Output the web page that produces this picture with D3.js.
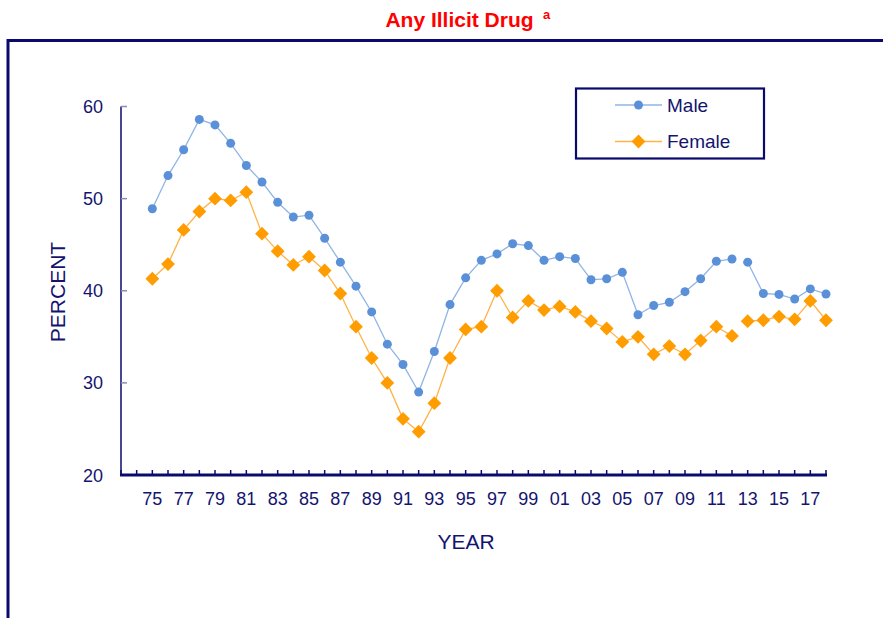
<!DOCTYPE html>
<html>
<head>
<meta charset="utf-8">
<script src="https://cdn.jsdelivr.net/npm/d3@7"></script>
<style>
  html, body { margin: 0; padding: 0; background: #fff; }
  svg { display: block; font-family: "Liberation Sans", Arial, sans-serif; }
</style>
</head>
<body>
<svg id="chart" width="883" height="618"></svg>
<script>
// ---- data ----
const years = d3.range(1975, 2019);
const maleValues = [48.9, 52.5, 55.3, 58.6, 58.0, 56.0, 53.6, 51.8, 49.6, 48.0,
                    48.2, 45.7, 43.1, 40.5, 37.7, 34.2, 32.0, 29.0, 33.4, 38.5,
                    41.4, 43.3, 44.0, 45.1, 44.9, 43.3, 43.7, 43.5, 41.2, 41.3,
                    42.0, 37.4, 38.4, 38.75, 39.9, 41.3, 43.2, 43.45, 43.1, 39.7,
                    39.6, 39.1, 40.2, 39.65];
const femaleValues = [41.3, 42.9, 46.6, 48.6, 50.0, 49.8, 50.7, 46.2, 44.3, 42.8,
                      43.7, 42.2, 39.7, 36.1, 32.7, 30.0, 26.1, 24.7, 27.8, 32.7,
                      35.8, 36.1, 40.0, 37.1, 38.9, 37.9, 38.3, 37.7, 36.7, 35.9,
                      34.45, 35.0, 33.1, 34.0, 33.1, 34.6, 36.1, 35.1, 36.7, 36.8,
                      37.2, 36.9, 38.9, 36.8];
const seriesNames = ["Male", "Female"];
const breakAfterYear = 2012; // lines are not joined across this year
const yTicks = [20, 30, 40, 50, 60];
const xLabelYears = d3.range(1975, 2018, 2);
const xTickYears = d3.range(1973, 2019);

// ---- styles ----
const navy = "#0a0a6e";
const textCol = "#141470";
const maleDot = "#5a90d8";
const maleLine = "#8fb5e6";
const femaleDot = "#ff9c00";
const femaleLine = "#ffb347";

const svg = d3.select("#chart");

// outer frame (top and left)
svg.append("line").attr("x1", 8).attr("x2", 883).attr("y1", 40.5).attr("y2", 40.5)
  .attr("stroke", navy).attr("stroke-width", 3);
svg.append("line").attr("x1", 8).attr("x2", 8).attr("y1", 39).attr("y2", 618)
  .attr("stroke", navy).attr("stroke-width", 3);

// title
svg.append("text").attr("x", 459.5).attr("y", 27)
  .attr("text-anchor", "middle").attr("fill", "#ff0000")
  .attr("font-weight", "bold").attr("font-size", 21).text("Any Illicit Drug");
svg.append("text").attr("x", 543).attr("y", 19)
  .attr("fill", "#ff0000").attr("font-weight", "bold").attr("font-size", 13).text("a");

// scales
const x = d3.scaleLinear().domain([1973, 2018]).range([121, 826]);
const y = d3.scaleLinear().domain([20, 60]).range([475, 106.5]);

// y axis line
svg.append("line").attr("x1", 121).attr("x2", 121).attr("y1", y(60)).attr("y2", y(20))
  .attr("stroke", navy).attr("stroke-width", 1.5);
// y ticks (inward, light)
svg.selectAll(".ytick").data(yTicks).enter().append("line")
  .attr("x1", 121).attr("x2", 127).attr("y1", d => y(d)).attr("y2", d => y(d))
  .attr("stroke", "#8a8ab8").attr("stroke-width", 1.5);
svg.selectAll(".ylab").data(yTicks).enter().append("text")
  .attr("x", 103).attr("y", d => y(d) + 6.5).attr("text-anchor", "end")
  .attr("fill", textCol).attr("font-size", 18).text(d => d);

// x axis
svg.append("line").attr("x1", 120).attr("x2", 827).attr("y1", 475).attr("y2", 475)
  .attr("stroke", navy).attr("stroke-width", 3);
svg.selectAll(".xtick").data(xTickYears).enter().append("line")
  .attr("x1", d => x(d)).attr("x2", d => x(d)).attr("y1", 475).attr("y2", 470)
  .attr("stroke", navy).attr("stroke-width", 1.5);
svg.selectAll(".xlab").data(xLabelYears).enter().append("text")
  .attr("x", d => x(d)).attr("y", 505).attr("text-anchor", "middle")
  .attr("fill", textCol).attr("font-size", 18)
  .text(d => String(d % 100).padStart(2, "0"));

// axis titles
svg.append("text").attr("x", 466).attr("y", 549).attr("text-anchor", "middle")
  .attr("fill", textCol).attr("font-size", 21).text("YEAR");
svg.append("text").attr("transform", "translate(65,292) rotate(-90)")
  .attr("text-anchor", "middle").attr("fill", textCol).attr("font-size", 21).text("PERCENT");

// series
const line = d3.line().x(d => x(d.year)).y(d => y(d.v));
function drawSeries(values, lineCol, dotCol, shape) {
  const pts = years.map((yr, i) => ({ year: yr, v: values[i] }));
  const segs = [pts.filter(p => p.year <= breakAfterYear), pts.filter(p => p.year > breakAfterYear)];
  segs.forEach(s => svg.append("path").attr("d", line(s)).attr("fill", "none")
    .attr("stroke", lineCol).attr("stroke-width", 1.3));
  const g = svg.append("g");
  if (shape === "circle") {
    g.selectAll("circle").data(pts).enter().append("circle")
      .attr("cx", d => x(d.year)).attr("cy", d => y(d.v)).attr("r", 4.5).attr("fill", dotCol);
  } else {
    const s = 6.9;
    g.selectAll("path").data(pts).enter().append("path")
      .attr("d", d => `M${x(d.year)},${y(d.v) - s}L${x(d.year) + s},${y(d.v)}L${x(d.year)},${y(d.v) + s}L${x(d.year) - s},${y(d.v)}Z`)
      .attr("fill", dotCol);
  }
}
drawSeries(maleValues, maleLine, maleDot, "circle");
drawSeries(femaleValues, femaleLine, femaleDot, "diamond");

// legend
svg.append("rect").attr("x", 576).attr("y", 88.5).attr("width", 188).attr("height", 70)
  .attr("fill", "#fff").attr("stroke", navy).attr("stroke-width", 2.2);
const legendRows = [
  { name: seriesNames[0], ly: 105, lc: maleLine, dc: maleDot, shape: "circle" },
  { name: seriesNames[1], ly: 141.5, lc: femaleLine, dc: femaleDot, shape: "diamond" }
];
legendRows.forEach(r => {
  svg.append("line").attr("x1", 615).attr("x2", 662).attr("y1", r.ly).attr("y2", r.ly)
    .attr("stroke", r.lc).attr("stroke-width", 1.3);
  if (r.shape === "circle") {
    svg.append("circle").attr("cx", 638.5).attr("cy", r.ly).attr("r", 4.5).attr("fill", r.dc);
  } else {
    const s = 6.9, cx = 638.5, cy = r.ly;
    svg.append("path").attr("d", `M${cx},${cy - s}L${cx + s},${cy}L${cx},${cy + s}L${cx - s},${cy}Z`).attr("fill", r.dc);
  }
  svg.append("text").attr("x", 667).attr("y", r.ly + 6.5).attr("fill", textCol)
    .attr("font-size", 19).text(r.name);
});
</script>
</body>
</html>
